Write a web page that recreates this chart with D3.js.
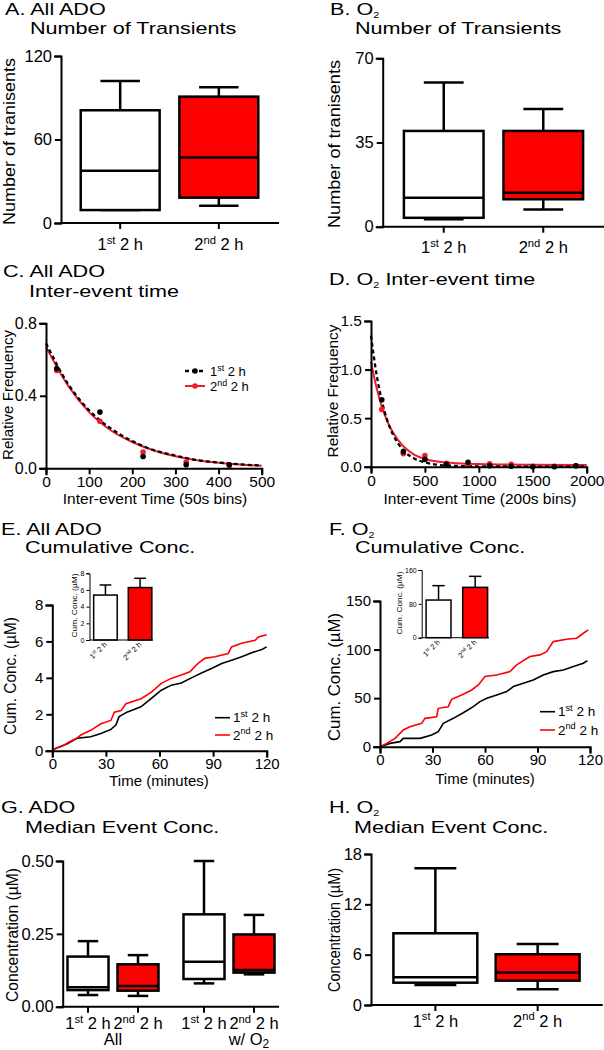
<!DOCTYPE html>
<html><head><meta charset="utf-8">
<script src="https://cdn.jsdelivr.net/npm/d3@7"></script>
<style>body{margin:0;background:#fff}svg{display:block}</style>
</head><body><svg id="c" width="604" height="1050"></svg>
<script>
// ---------------- data ----------------
const periods = ["1st 2 h", "2nd 2 h"];
const fills = ["#ffffff", "#ff0000"];
// A. All ADO number of transients (box: min,q1,median,q3,max)
const aMin = [9.3, 12.4], aQ1 = [9.3, 18.2], aMed = [37.6, 47], aQ3 = [81, 90.8], aMax = [102, 97.5];
const aTicks = [0, 60, 120];
// B. O2 number of transients
const bMin = [3.1, 7.2], bQ1 = [3.7, 11.4], bMed = [12.0, 14.1], bQ3 = [39.8, 39.8], bMax = [59.9, 48.9];
const bTicks = [0, 35, 70];
// C. All ADO inter-event time
const cBins = [25, 125, 225, 325, 425];
const cFreq1 = [0.55, 0.31, 0.065, 0.02, 0.02];
const cFreq2 = [0.54, 0.26, 0.09, 0.035, 0.015];
const cFitX = [0, 50, 100, 150, 200, 250, 300, 350, 400, 450, 500];
const cFit1 = [0.69, 0.47, 0.32, 0.22, 0.15, 0.10, 0.07, 0.045, 0.032, 0.022, 0.015];
const cFit2 = [0.67, 0.46, 0.31, 0.21, 0.145, 0.098, 0.067, 0.045, 0.031, 0.021, 0.014];
const cXTicks = [0, 100, 200, 300, 400, 500], cYTicks = [0, 0.4, 0.8];
// D. O2 inter-event time
const dBins = [100, 300, 500, 700, 900, 1100, 1300, 1500, 1700, 1900];
const dFreq1 = [0.69, 0.155, 0.075, 0.025, 0.045, 0.01, 0.005, 0.0, 0.0, 0.01];
const dFreq2 = [0.59, 0.135, 0.115, 0.035, 0.02, 0.03, 0.025, 0.005, 0.005, 0.01];
const dFitX = [0, 50, 100, 150, 200, 300, 400, 500, 600, 800, 1000, 1500, 2000];
const dFit1 = [1.35, 0.96, 0.68, 0.48, 0.34, 0.17, 0.085, 0.045, 0.022, 0.008, 0.004, 0.001, 0.0];
const dFit2 = [1.08, 0.82, 0.62, 0.47, 0.36, 0.21, 0.125, 0.08, 0.055, 0.035, 0.027, 0.02, 0.018];
const dXTicks = [0, 500, 1000, 1500, 2000], dYTicks = [0, 0.5, 1.0, 1.5];
// E. All ADO cumulative concentration
const eT1 = [0, 8.4, 13.9, 21.5, 27.2, 32.8, 35.6, 37.4, 42.1, 49.6, 55.3, 61, 66.6, 72.2, 77.9, 83.5, 89.1, 94.8, 100.4, 106, 111.6, 117.3, 120];
const eV1 = [0.05, 0.38, 0.68, 0.77, 0.95, 1.17, 1.41, 1.87, 2.13, 2.41, 2.86, 3.32, 3.6, 3.72, 4.0, 4.27, 4.51, 4.79, 4.97, 5.16, 5.38, 5.56, 5.70];
const eT2 = [0, 5.6, 9, 13.6, 16, 21.5, 27.2, 32.8, 34.7, 38.5, 41.2, 49.7, 55.3, 61, 66.6, 72.2, 77, 81.6, 85.3, 91, 98.5, 100.3, 106, 113.5, 115.3, 120];
const eV2 = [0.05, 0.25, 0.45, 0.68, 0.86, 1.12, 1.48, 1.66, 2.11, 2.2, 2.58, 2.85, 3.2, 3.7, 3.97, 4.15, 4.33, 4.79, 5.07, 5.16, 5.34, 5.7, 5.9, 6.06, 6.24, 6.37];
const eXTicks = [0, 30, 60, 90, 120], eYTicks = [0, 2, 4, 6, 8];
const eBar = [5.39, 6.29], eErr = [6.6, 7.4], eInsetTicks = [0, 2, 4, 6, 8];
// F. O2 cumulative concentration
const fT1 = [0, 5.7, 11.4, 13.3, 22.9, 29.5, 33.3, 36.2, 41.9, 47.6, 53.3, 57.1, 61, 66.7, 72.4, 76.2, 81.9, 87.6, 93.3, 99, 104.8, 110.5, 116.2, 118.5];
const fV1 = [0, 3.4, 5.2, 8.6, 8.6, 12, 15.5, 24, 29.2, 35, 41.2, 46.4, 49.8, 53.3, 56.7, 61.9, 65.3, 68.7, 73.9, 77.3, 79, 82.5, 85.9, 88.6];
const fT2 = [0, 3.8, 8.6, 13.3, 17.1, 23.8, 25.7, 32.4, 33.3, 39, 40.9, 46.7, 52.4, 56.2, 60, 66.7, 74.3, 78.1, 85.7, 91.4, 95.2, 99, 106.7, 112.4, 116.2, 119];
const fV2 = [0, 3.4, 8.6, 17.2, 20.6, 24, 29.2, 30.9, 39.5, 41.2, 48.8, 53.3, 58.4, 63.6, 72.2, 73.9, 77.3, 84.2, 92.8, 94.5, 97.9, 108.2, 110.6, 111.7, 116.8, 120.3];
const fXTicks = [0, 30, 60, 90, 120], fYTicks = [0, 50, 100, 150];
const fBar = [89, 119], fErr = [123, 145], fInsetTicks = [0, 80, 160];
// G. ADO median event conc. (All 1st, All 2nd, w/O2 1st, w/O2 2nd)
const gGroups = ["All", "w/ O2"];
const gMin = [0.040, 0.037, 0.080, 0.111], gQ1 = [0.057, 0.055, 0.095, 0.117], gMed = [0.0666, 0.071, 0.154, 0.126],
      gQ3 = [0.172, 0.1455, 0.317, 0.248], gMax = [0.225, 0.177, 0.5, 0.315];
const gTicks = [0, 0.25, 0.5];
// H. O2 median event conc.
const hMin = [2.39, 1.87], hQ1 = [2.66, 2.9], hMed = [3.3, 3.86], hQ3 = [8.55, 6.05], hMax = [16.3, 7.28];
const hTicks = [0, 6, 12, 18];

// ---------------- drawing ----------------
const FONT = "'Liberation Sans', Arial, Helvetica, sans-serif";
const RED_LINE = "#ee1c2e";
const svg = d3.select("#c").attr("font-family", FONT);
svg.append("rect").attr("width", 604).attr("height", 1050).attr("fill", "#fff");

function title(x, y, parts) {
  const t = svg.append("text").attr("transform", `translate(${x},${y}) scale(1.27,1)`)
    .attr("font-size", 17).attr("fill", "#000");
  let shifted = false;
  parts.forEach(p => {
    if (typeof p === "string") { t.append("tspan").attr("dy", shifted ? -3 : null).text(p); shifted = false; }
    else { t.append("tspan").attr("font-size", 8.5).attr("dy", 3).text(p.sub); shifted = true; }
  });
}
function yLabel(x, cy, txt, len, fs) {
  svg.append("text").attr("transform", `translate(${x},${cy}) rotate(-90)`)
    .attr("text-anchor", "middle").attr("font-size", fs).attr("fill", "#000")
    .attr("textLength", len).attr("lengthAdjust", "spacingAndGlyphs").text(txt);
}
function styleAxis(g, fs, sw) {
  g.attr("font-family", null).attr("font-size", null);
  g.select(".domain").attr("stroke", "#000").attr("stroke-width", sw).attr("stroke-linecap", "square");
  g.selectAll(".tick line").attr("stroke", "#000").attr("stroke-width", sw);
  g.selectAll(".tick text").attr("font-size", fs).attr("fill", "#000");
}
function yAxis(scale, x, ticks, fmt, fs, sw = 2, size = 6) {
  const g = svg.append("g").attr("transform", `translate(${x},0)`)
    .call(d3.axisLeft(scale).tickValues(ticks).tickFormat(fmt).tickSizeOuter(0).tickSize(size).tickPadding(size > 4 ? 3 : 2));
  styleAxis(g, fs, sw); return g;
}
function xAxis(scale, y, ticks, fmt, fs) {
  const g = svg.append("g").attr("transform", `translate(0,${y})`)
    .call(d3.axisBottom(scale).tickValues(ticks).tickFormat(fmt).tickSizeOuter(0).tickSize(6).tickPadding(2));
  styleAxis(g, fs, 2); return g;
}
function periodLabel(t, label, fs) {
  const m = label.match(/^(\d)(st|nd)(.*)$/);
  const sfs = fs * 0.68, up = fs * 0.38;
  t.append("tspan").text(m[1]);
  t.append("tspan").attr("font-size", sfs).attr("dy", -up).text(m[2]);
  t.append("tspan").attr("font-size", fs).attr("dy", up).text(m[3]);
}
function boxXAxis(x0, x1, y, centers, labels, fs, labelDy) {
  svg.append("line").attr("x1", x0).attr("x2", x1).attr("y1", y).attr("y2", y)
    .attr("stroke", "#000").attr("stroke-width", 2).attr("stroke-linecap", "square");
  centers.forEach((c, i) => {
    svg.append("line").attr("x1", c).attr("x2", c).attr("y1", y).attr("y2", y + 6)
      .attr("stroke", "#000").attr("stroke-width", 2);
    const t = svg.append("text").attr("x", c).attr("y", y + labelDy).attr("text-anchor", "middle")
      .attr("font-size", fs).attr("fill", "#000");
    periodLabel(t, labels[i], fs);
  });
}
function box(x0, w, y, mn, q1, md, q3, mx, fill) {
  const cx = x0 + w / 2, cw = w / 4, sw = 2.5;
  const L = (a, b, c, d) => svg.append("line").attr("x1", a).attr("y1", b).attr("x2", c).attr("y2", d)
    .attr("stroke", "#000").attr("stroke-width", sw);
  L(cx, y(mx), cx, y(q3)); L(cx - cw, y(mx), cx + cw, y(mx));
  L(cx, y(q1), cx, y(mn)); L(cx - cw, y(mn), cx + cw, y(mn));
  svg.append("rect").attr("x", x0).attr("y", y(q3)).attr("width", w).attr("height", y(q1) - y(q3))
    .attr("fill", fill).attr("stroke", "#000").attr("stroke-width", sw);
  L(x0, y(md), x0 + w, y(md));
}

// ---- Panel A ----
title(5, 15, ["A. All ADO"]);
title(30, 33.5, ["Number of Transients"]);
{
  const y = d3.scaleLinear().domain([0, 120]).range([223, 56]);
  const x = d3.scaleBand().domain(periods).range([61, 278]).padding(0.2);
  yAxis(y, 61, aTicks, d3.format("d"), 16.5);
  periods.forEach((p, i) => box(x(p), x.bandwidth(), y, aMin[i], aQ1[i], aMed[i], aQ3[i], aMax[i], fills[i]));
  boxXAxis(61, 278, 223, periods.map(p => x(p) + x.bandwidth() / 2), periods, 16.5, 27);
  yLabel(15, 141.5, "Number of tranisents", 167, 16);
}
// ---- Panel B ----
title(330, 15, ["B. O", {sub: "2"}]);
title(355, 33.5, ["Number of Transients"]);
{
  const y = d3.scaleLinear().domain([0, 70]).range([226.7, 58.3]);
  const x = d3.scaleBand().domain(periods).range([384, 603]).padding(0.2);
  yAxis(y, 382.7, bTicks, d3.format("d"), 16.5);
  periods.forEach((p, i) => box(x(p), x.bandwidth(), y, bMin[i], bQ1[i], bMed[i], bQ3[i], bMax[i], fills[i]));
  boxXAxis(382.7, 603, 226.7, periods.map(p => x(p) + x.bandwidth() / 2), periods, 16.5, 26.5);
  yLabel(340, 144, "Number of tranisents", 168, 16);
}
// ---- Panel C ----
title(3, 276.7, ["C. All ADO"]);
title(29, 296.7, ["Inter-event time"]);
function freqPanel(x, y, fitX, fit1, fit2, bins, f1, f2) {
  const line = d3.line().x((d, i) => x(fitX[i])).y(d => y(d)).curve(d3.curveMonotoneX);
  svg.append("path").attr("d", line(fit2)).attr("fill", "none").attr("stroke", RED_LINE).attr("stroke-width", 2);
  svg.append("path").attr("d", line(fit1)).attr("fill", "none").attr("stroke", "#000").attr("stroke-width", 2.3)
    .attr("stroke-dasharray", "4,3");
  svg.selectAll(null).data(f2).enter().append("circle").attr("cx", (d, i) => x(bins[i])).attr("cy", d => y(d))
    .attr("r", 2.8).attr("fill", RED_LINE);
  svg.selectAll(null).data(f1).enter().append("circle").attr("cx", (d, i) => x(bins[i])).attr("cy", d => y(d))
    .attr("r", 2.8).attr("fill", "#000");
}
{
  const x = d3.scaleLinear().domain([0, 500]).range([46, 261.7]);
  const y = d3.scaleLinear().domain([0, 0.8]).range([468.3, 323.3]);
  freqPanel(x, y, cFitX, cFit1, cFit2, cBins, cFreq1, cFreq2);
  yAxis(y, 46, cYTicks, d3.format(".1f"), 16);
  xAxis(x, 468.3, cXTicks, d3.format("d"), 15.5);
  yLabel(13, 395, "Relative Frequency", 130, 15);
  svg.append("text").attr("x", 155).attr("y", 504).attr("text-anchor", "middle").attr("font-size", 15.5)
    .text("Inter-event Time (50s bins)");
  // legend
  svg.append("line").attr("x1", 185).attr("x2", 205).attr("y1", 371).attr("y2", 371).attr("stroke", "#000")
    .attr("stroke-width", 2.3).attr("stroke-dasharray", "4,3");
  svg.append("circle").attr("cx", 195).attr("cy", 371).attr("r", 2.8).attr("fill", "#000");
  svg.append("line").attr("x1", 185).attr("x2", 205).attr("y1", 386).attr("y2", 386).attr("stroke", RED_LINE).attr("stroke-width", 2);
  svg.append("circle").attr("cx", 195).attr("cy", 386).attr("r", 2.8).attr("fill", RED_LINE);
  periodLabel(svg.append("text").attr("x", 210).attr("y", 375.5).attr("font-size", 13), periods[0], 13);
  periodLabel(svg.append("text").attr("x", 210).attr("y", 391).attr("font-size", 13), periods[1], 13);
}
// ---- Panel D ----
title(329, 285, ["D. O", {sub: "2"}, " Inter-event time"]);
{
  const x = d3.scaleLinear().domain([0, 2000]).range([371, 586.7]);
  const y = d3.scaleLinear().domain([0, 1.5]).range([466.7, 321]);
  freqPanel(x, y, dFitX, dFit1, dFit2, dBins, dFreq1, dFreq2);
  yAxis(y, 371, dYTicks, d3.format(".1f"), 15.5);
  xAxis(x, 466.7, dXTicks, d3.format("d"), 15.5);
  yLabel(338, 391, "Relative Frequency", 133, 15);
  svg.append("text").attr("x", 480).attr("y", 504).attr("text-anchor", "middle").attr("font-size", 15.5)
    .text("Inter-event Time (200s bins)");
}
// ---- Cumulative panels ----
function cumPanel(x, y, t1, v1, t2, v2) {
  const l = (ts) => d3.line().x((d, i) => x(ts[i])).y(d => y(d));
  svg.append("path").attr("d", l(t1)(v1)).attr("fill", "none").attr("stroke", "#000").attr("stroke-width", 1.6);
  svg.append("path").attr("d", l(t2)(v2)).attr("fill", "none").attr("stroke", "#ff0000").attr("stroke-width", 1.6);
}
function cumLegend(x0, y1, y2) {
  svg.append("line").attr("x1", x0).attr("x2", x0 + 15).attr("y1", y1).attr("y2", y1).attr("stroke", "#000").attr("stroke-width", 1.6);
  svg.append("line").attr("x1", x0).attr("x2", x0 + 15).attr("y1", y2).attr("y2", y2).attr("stroke", "#ff0000").attr("stroke-width", 1.6);
  periodLabel(svg.append("text").attr("x", x0 + 18).attr("y", y1 + 4.5).attr("font-size", 13.5), periods[0], 13.5);
  periodLabel(svg.append("text").attr("x", x0 + 18).attr("y", y2 + 4.5).attr("font-size", 13.5), periods[1], 13.5);
}
function inset(xr, yr, dom, vals, errs, ticks, labelX, labelCy, labelLen) {
  const y = d3.scaleLinear().domain(dom).range(yr);
  const x = d3.scaleBand().domain(periods).range(xr).paddingInner(0.32).paddingOuter(0.12);
  periods.forEach((p, i) => {
    const cx = x(p) + x.bandwidth() / 2;
    svg.append("line").attr("x1", cx).attr("x2", cx).attr("y1", y(vals[i])).attr("y2", y(errs[i])).attr("stroke", "#000").attr("stroke-width", 1.5);
    svg.append("line").attr("x1", cx - x.bandwidth() / 4).attr("x2", cx + x.bandwidth() / 4).attr("y1", y(errs[i])).attr("y2", y(errs[i])).attr("stroke", "#000").attr("stroke-width", 1.5);
    svg.append("rect").attr("x", x(p)).attr("y", y(vals[i])).attr("width", x.bandwidth()).attr("height", y(0) - y(vals[i]))
      .attr("fill", fills[i]).attr("stroke", "#000").attr("stroke-width", 1.5);
    const t = svg.append("text").attr("transform", `translate(${cx + 2},${y(0) + 5}) rotate(-45)`)
      .attr("text-anchor", "end").attr("font-size", 7.5);
    periodLabel(t, p, 7.5);
  });
  yAxis(y, xr[0], ticks, d3.format("d"), 7, 1, 3);
  svg.append("line").attr("x1", xr[0]).attr("x2", xr[1] - 3).attr("y1", y(0)).attr("y2", y(0)).attr("stroke", "#000").attr("stroke-width", 1);
  yLabel(labelX, labelCy, "Cum. Conc. (\u00b5M)", labelLen, 8);
}
// E
title(1, 535, ["E. All ADO"]);
title(25, 553.3, ["Cumulative Conc."]);
{
  const x = d3.scaleLinear().domain([0, 120]).range([52.3, 266.7]);
  const y = d3.scaleLinear().domain([0, 8]).range([750.7, 605]);
  cumPanel(x, y, eT1, eV1, eT2, eV2);
  yAxis(y, 52.3, eYTicks, d3.format("d"), 15);
  xAxis(x, 750.7, eXTicks, d3.format("d"), 15);
  yLabel(16, 676, "Cum. Conc. (\u00b5M)", 118, 16);
  svg.append("text").attr("x", 159).attr("y", 786).attr("text-anchor", "middle").attr("font-size", 15).text("Time (minutes)");
  cumLegend(215, 717.7, 735);
  inset([89.5, 156], [640, 573.3], [0, 8], eBar, eErr, eInsetTicks, 76.5, 605.5, 64);
}
// F
title(329, 535, ["F. O", {sub: "2"}]);
title(355, 553.3, ["Cumulative Conc."]);
{
  const x = d3.scaleLinear().domain([0, 120]).range([380, 590]);
  const y = d3.scaleLinear().domain([0, 150]).range([746.7, 601]);
  cumPanel(x, y, fT1, fV1, fT2, fV2);
  yAxis(y, 380, fYTicks, d3.format("d"), 15);
  xAxis(x, 746.7, fXTicks, d3.format("d"), 15);
  yLabel(340, 677, "Cum. Conc. (\u00b5M)", 128, 16);
  svg.append("text").attr("x", 485).attr("y", 784).attr("text-anchor", "middle").attr("font-size", 15).text("Time (minutes)");
  cumLegend(540, 711.7, 730);
  inset([421.7, 492], [637.7, 570], [0, 160], fBar, fErr, fInsetTicks, 402, 603, 63);
}
// ---- Panel G ----
title(1, 813.3, ["G. ADO"]);
title(25, 833.3, ["Median Event Conc."]);
{
  const y = d3.scaleLinear().domain([0, 0.5]).range([1006.7, 861]);
  const xg = d3.scaleBand().domain(gGroups).range([55, 287]).padding(0);
  const xi = d3.scaleBand().domain(periods).range([0, xg.bandwidth()]).paddingInner(0.18).paddingOuter(0.25);
  yAxis(y, 62.7, gTicks, d3.format(".2f"), 16.5);
  const centers = [], labels = [];
  gGroups.forEach((g, gi) => periods.forEach((p, pi) => {
    const k = gi * 2 + pi, x0 = xg(g) + xi(p);
    box(x0, xi.bandwidth(), y, gMin[k], gQ1[k], gMed[k], gQ3[k], gMax[k], fills[pi]);
    centers.push(x0 + xi.bandwidth() / 2); labels.push(p);
  }));
  boxXAxis(62.7, 278, 1006.7, centers, labels, 16.5, 22.3);
  svg.append("text").attr("x", xg(gGroups[0]) + xg.bandwidth() / 2).attr("y", 1045).attr("text-anchor", "middle").attr("font-size", 16.5).text(gGroups[0]);
  const t2 = svg.append("text").attr("x", xg(gGroups[1]) + xg.bandwidth() / 2 + 20).attr("y", 1045).attr("text-anchor", "middle").attr("font-size", 16.5);
  t2.append("tspan").text("w/ O");
  t2.append("tspan").attr("font-size", 12).attr("dy", 3).text("2");
  yLabel(17.5, 935, "Concentration (\u00b5M)", 134, 16);
}
// ---- Panel H ----
title(329, 813.3, ["H. O", {sub: "2"}]);
title(354, 833.3, ["Median Event Conc."]);
{
  const y = d3.scaleLinear().domain([0, 18]).range([1005, 854]);
  const x = d3.scaleBand().domain(periods).range([375, 598]).padding(0.18);
  yAxis(y, 371, hTicks, d3.format("d"), 16.5);
  periods.forEach((p, i) => box(x(p), x.bandwidth(), y, hMin[i], hQ1[i], hMed[i], hQ3[i], hMax[i], fills[i]));
  boxXAxis(371, 601.7, 1005, periods.map(p => x(p) + x.bandwidth() / 2), periods, 16.5, 21.7);
  yLabel(339.5, 930, "Concentration (\u00b5M)", 124, 16);
}
</script></body></html>
